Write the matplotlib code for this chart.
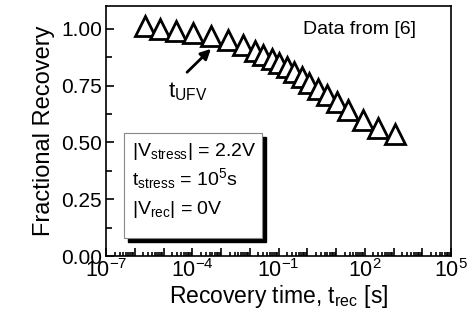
import numpy as np
import matplotlib
matplotlib.use("Agg")
from matplotlib import pyplot as plt
from matplotlib.patches import Rectangle
from matplotlib.ticker import FixedLocator, LogLocator, MultipleLocator, NullFormatter

plt.rcParams['font.family'] = ['Liberation Sans', 'DejaVu Sans']
plt.rcParams['mathtext.fontset'] = 'custom'
plt.rcParams['mathtext.rm'] = 'Liberation Sans'
plt.rcParams['mathtext.it'] = 'Liberation Sans'
plt.rcParams['mathtext.bf'] = 'Liberation Sans:bold'

# recovery data (log10 of time in s, fractional recovery)
log_t = [-5.64, -5.12, -4.58, -3.98, -3.35, -2.75, -2.23, -1.82, -1.53, -1.24, -0.97,
         -0.71, -0.45, -0.19, 0.07, 0.38, 0.68, 1.02, 1.43, 1.95, 2.47, 3.05]
recovery = [1.01, 1.00, 0.99, 0.98, 0.97, 0.95, 0.93, 0.904, 0.885, 0.868, 0.849,
            0.83, 0.81, 0.787, 0.763, 0.737, 0.707, 0.678, 0.641, 0.597, 0.564, 0.535]
t_rec = 10 ** np.array(log_t)

y_ticks = [0.0, 0.25, 0.5, 0.75, 1.0]

fig = plt.figure(figsize=(4.76, 3.22), dpi=100)
ax = fig.add_axes([106 / 476, 1 - 256 / 322, 345 / 476, 250 / 322])

ax.plot(t_rec, recovery, linestyle='none', marker='^', markersize=14.5,
        markerfacecolor='white', markeredgecolor='black', markeredgewidth=2)

ax.set_xscale('log')
ax.set_xlim(1e-7, 1e5)
ax.set_ylim(0, 1.1)

ax.xaxis.set_major_locator(LogLocator(base=10, numticks=20))
ax.xaxis.set_minor_locator(LogLocator(base=10, subs=np.arange(2, 10), numticks=20))
ax.xaxis.set_minor_formatter(NullFormatter())
# label every third decade only
ax.xaxis.set_major_formatter(plt.FuncFormatter(
    lambda v, p: r'$10^{%d}$' % round(np.log10(v)) if round(np.log10(v)) % 3 == 2 else ''))
ax.yaxis.set_major_locator(FixedLocator(y_ticks))
ax.yaxis.set_minor_locator(MultipleLocator(0.125))
ax.set_yticklabels(['%.2f' % v for v in y_ticks])

ax.tick_params(axis='both', which='both', direction='in', top=False, right=False, width=1.2)
ax.tick_params(axis='x', which='major', length=6, labelsize=15.5, pad=2)
ax.tick_params(axis='x', which='minor', length=3)
ax.tick_params(axis='y', which='major', length=6, labelsize=15, pad=3)
ax.tick_params(axis='y', which='minor', length=4)
for s in ax.spines.values():
    s.set_linewidth(1.2)

ax.set_xlabel('Recovery time, t$_{\\mathrm{rec}}$ [s]', fontsize=16.5, labelpad=1)
ax.set_ylabel('Fractional Recovery', fontsize=17, labelpad=4)

ax.text(0.57, 0.905, 'Data from [6]', transform=ax.transAxes, fontsize=14,
        ha='left', va='center')

ax.annotate('', xy=(10 ** -3.28, 0.92), xytext=(10 ** -4.25, 0.80),
            arrowprops=dict(arrowstyle='-|>', color='black', lw=2, mutation_scale=15))
ax.text(10 ** -4.84, 0.70, 't$_{\\mathrm{UFV}}$', fontsize=16, ha='left', va='baseline')

# inset box with shadow
ax.add_patch(Rectangle((0.064, 0.056), 0.40, 0.42, transform=ax.transAxes,
                       facecolor='black', edgecolor='black', zorder=4))
ax.add_patch(Rectangle((0.052, 0.072), 0.40, 0.42, transform=ax.transAxes,
                       facecolor='white', edgecolor='#888888', lw=0.8, zorder=5))
lines = ['|V$_{\\mathrm{stress}}$| = 2.2V', 't$_{\\mathrm{stress}}$ = 10$^{5}$s',
         '|V$_{\\mathrm{rec}}$| = 0V']
for i, s in enumerate(lines):
    ax.text(0.075, 0.40 - i * 0.117, s, transform=ax.transAxes, fontsize=14,
            ha='left', va='baseline', zorder=6)

fig.savefig('out.png', dpi=100)
